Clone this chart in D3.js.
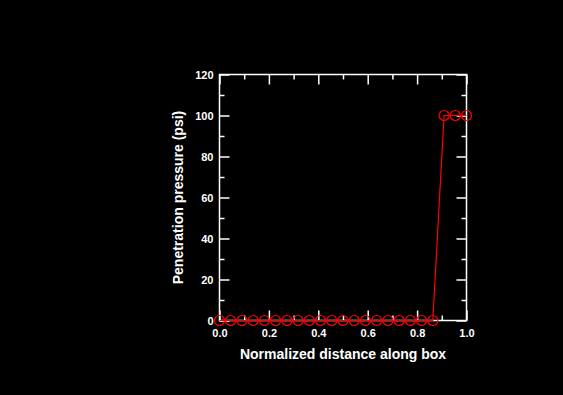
<!DOCTYPE html>
<meta charset="utf-8">
<style>
    body { margin: 0; background: black; }
    .axis path, .axis line { fill: none; stroke: white; stroke-width: 1.5px; }
    .axis text { font-family: "Liberation Sans", Arial, sans-serif; font-size: 11px; font-weight: bold; fill: white; }
    .title { font-family: "Liberation Sans", Arial, sans-serif; font-size: 14px; font-weight: bold; fill: white; }
</style>
<div class="chart"></div>
<script src="https://cdn.jsdelivr.net/npm/d3@7"></script>
<script>
    // pressure values at 23 equally spaced stations along the box
    var distance = [0, 1/22, 2/22, 3/22, 4/22, 5/22, 6/22, 7/22, 8/22, 9/22, 10/22, 11/22,
        12/22, 13/22, 14/22, 15/22, 16/22, 17/22, 18/22, 19/22, 20/22, 21/22, 1];
    var pressure = [0, 0, 0, 0, 0, 0, 0, 0, 0, 0, 0, 0, 0, 0, 0, 0, 0, 0, 0, 0, 100, 100, 100];
    var xTicks = [0, 0.2, 0.4, 0.6, 0.8, 1.0];
    var xMinor = [0.1, 0.3, 0.5, 0.7, 0.9];
    var yTicks = [0, 20, 40, 60, 80, 100, 120];
    var yMinor = [10, 30, 50, 70, 90, 110];

    var W = 563, H = 395;
    var pLeft = 219.5, pRight = 466.5, pTop = 74.5, pBottom = 320.5;

    var svg = d3.select('.chart').append('svg')
        .attr('width', W).attr('height', H);
    svg.append('rect').attr('width', W).attr('height', H).attr('fill', 'black');

    var x = d3.scaleLinear().domain([0, 1]).range([pLeft, pRight]);
    var y = d3.scaleLinear().domain([0, 120]).range([pBottom, pTop]);

    // box
    svg.append('rect')
        .attr('x', pLeft).attr('y', pTop)
        .attr('width', pRight - pLeft).attr('height', pBottom - pTop)
        .attr('fill', 'none').attr('stroke', 'white').attr('stroke-width', 1.5);

    function ticks(axisFn, scale, vals, len, labels, pos) {
        var a = axisFn(scale).tickValues(vals).tickSizeInner(-len).tickSizeOuter(0);
        if (labels) a.tickFormat(labels).tickPadding(len + 4);
        else a.tickFormat('');
        var g = svg.append('g').attr('class', 'axis').attr('transform', pos).call(a);
        g.select('.domain').remove();
        return g;
    }

    var fmt1 = d3.format('.1f');
    var xl = ticks(d3.axisBottom, x, xTicks, 10, fmt1, 'translate(0,' + pBottom + ')');
    ticks(d3.axisBottom, x, xMinor, 5, null, 'translate(0,' + pBottom + ')');
    ticks(d3.axisTop, x, xTicks, 10, null, 'translate(0,' + pTop + ')');
    ticks(d3.axisTop, x, xMinor, 5, null, 'translate(0,' + pTop + ')');
    var yl = ticks(d3.axisLeft, y, yTicks, 10, d3.format('d'), 'translate(' + pLeft + ',0)');
    ticks(d3.axisLeft, y, yMinor, 5, null, 'translate(' + pLeft + ',0)');
    ticks(d3.axisRight, y, yTicks, 10, null, 'translate(' + pRight + ',0)');
    ticks(d3.axisRight, y, yMinor, 5, null, 'translate(' + pRight + ',0)');

    xl.selectAll('text').attr('y', 9);
    yl.selectAll('text').attr('x', -6);

    var data = distance.map(function (d, i) { return {x: d, y: pressure[i]}; });

    svg.append('path')
        .datum(data)
        .attr('fill', 'none')
        .attr('stroke', 'red')
        .attr('stroke-width', 1.2)
        .attr('d', d3.line().x(function (d) { return x(d.x); }).y(function (d) { return y(d.y); }));

    svg.selectAll('circle.pt')
        .data(data)
        .enter().append('circle')
        .attr('class', 'pt')
        .attr('cx', function (d) { return x(d.x); })
        .attr('cy', function (d) { return y(d.y); })
        .attr('r', 5)
        .attr('fill', 'none')
        .attr('stroke', 'red')
        .attr('stroke-width', 1.2);

    svg.append('text').attr('class', 'title')
        .attr('x', (pLeft + pRight) / 2).attr('y', 359)
        .attr('text-anchor', 'middle')
        .text('Normalized distance along box');

    svg.append('text').attr('class', 'title')
        .attr('transform', 'translate(183,' + ((pTop + pBottom) / 2) + ') rotate(-90)')
        .attr('text-anchor', 'middle')
        .text('Penetration pressure (psi)');
</script>
